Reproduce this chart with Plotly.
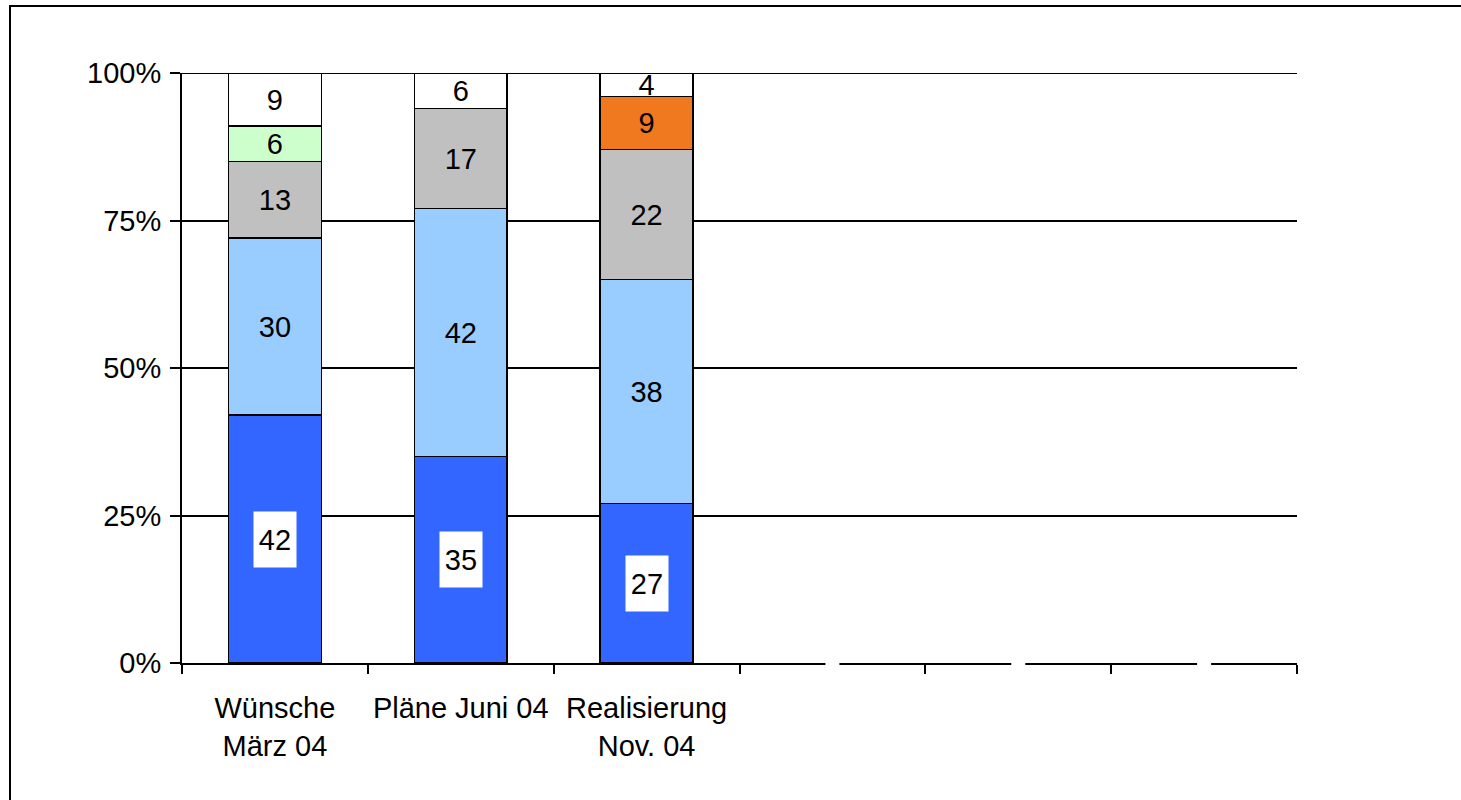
import plotly.graph_objects as go

# Categories (three filled, three empty slots on the axis)
categories = ["Wünsche<br>März 04", "Pläne Juni 04", "Realisierung<br>Nov. 04", " ", "  ", "   "]
filled = categories[:3]
empty = categories[3:]

# Stacked shares in percent, bottom to top
s_dark_blue = [42, 35, 27]
s_light_blue = [30, 42, 38]
s_gray = [13, 17, 22]
s_green = [6, 0, 0]
s_orange = [0, 0, 9]
s_white = [9, 6, 4]

y_ticks = [0, 25, 50, 75, 100]

FONT = "Liberation Sans, Arial, sans-serif"
FS = 29

series = [
    (s_dark_blue, "#3366FF", False),
    (s_light_blue, "#99CCFF", True),
    (s_gray, "#C0C0C0", True),
    (s_green, "#CCFFCC", True),
    (s_orange, "#F0781F", True),
    (s_white, "#FFFFFF", True),
]

fig = go.Figure()
for vals, color, show_text in series:
    fig.add_trace(go.Bar(
        x=filled, y=vals,
        marker=dict(color=color, line=dict(color="black", width=1.5)),
        text=[str(v) if (show_text and v) else "" for v in vals],
        textposition="inside", insidetextanchor="middle",
        constraintext="none", textangle=0,
        textfont=dict(family=FONT, size=FS, color="black"),
        hoverinfo="skip", showlegend=False,
    ))

# Boxed labels on the bottom segment
for cat, v in zip(filled, s_dark_blue):
    fig.add_annotation(
        x=cat, y=v / 2, text=str(v), showarrow=False,
        font=dict(family=FONT, size=FS, color="black"),
        bgcolor="white", width=32, height=45, borderpad=5,
    )

# Small breaks in the base line at the empty slots
fig.add_trace(go.Scatter(
    x=empty, y=[0, 0, 0], mode="markers",
    marker=dict(symbol="line-ew", size=10, line=dict(color="white", width=4)),
    cliponaxis=False, hoverinfo="skip", showlegend=False,
))

fig.update_layout(
    barmode="stack", bargap=0.5,
    width=1461, height=800,
    margin=dict(l=182, r=164, t=73, b=137),
    paper_bgcolor="white", plot_bgcolor="white",
    font=dict(family=FONT, size=FS, color="black"),
)
fig.update_xaxes(
    type="category", categoryorder="array", categoryarray=categories,
    range=[-0.5, len(categories) - 0.5], autorange=False,
    tickson="boundaries", ticks="outside", ticklen=9, tickwidth=1.5, tickcolor="black",
    ticklabelstandoff=18,
    showline=True, linecolor="black", linewidth=2, showgrid=False,
    tickfont=dict(family=FONT, size=FS, color="black"), layer="below traces",
)
fig.update_yaxes(
    range=[0, 100], tickvals=y_ticks, ticktext=[f"{t}%" for t in y_ticks],
    ticks="outside", ticklen=10, tickwidth=1.5, tickcolor="black",
    ticklabelstandoff=3,
    showline=True, linecolor="black", linewidth=2,
    showgrid=True, gridcolor="black", gridwidth=1.5, zeroline=False,
    tickfont=dict(family=FONT, size=FS, color="black"),
)

# Top gridline at 100 %
fig.add_shape(type="line", xref="paper", yref="y", x0=0, x1=1, y0=100, y1=100,
              line=dict(color="black", width=2), layer="below")

# Outer frame of the chart area
L, R, T, B = 182, 164, 73, 137
pw, ph = 1461 - L - R, 800 - T - B
fig.add_shape(
    type="rect", xref="paper", yref="paper",
    x0=(10 - L) / pw, x1=(1480 - L) / pw,
    y0=-(830 - 800 + B) / ph, y1=(800 - B - 6) / ph,
    line=dict(color="black", width=2), fillcolor="rgba(0,0,0,0)", layer="below",
)

fig.write_html("out.html")
